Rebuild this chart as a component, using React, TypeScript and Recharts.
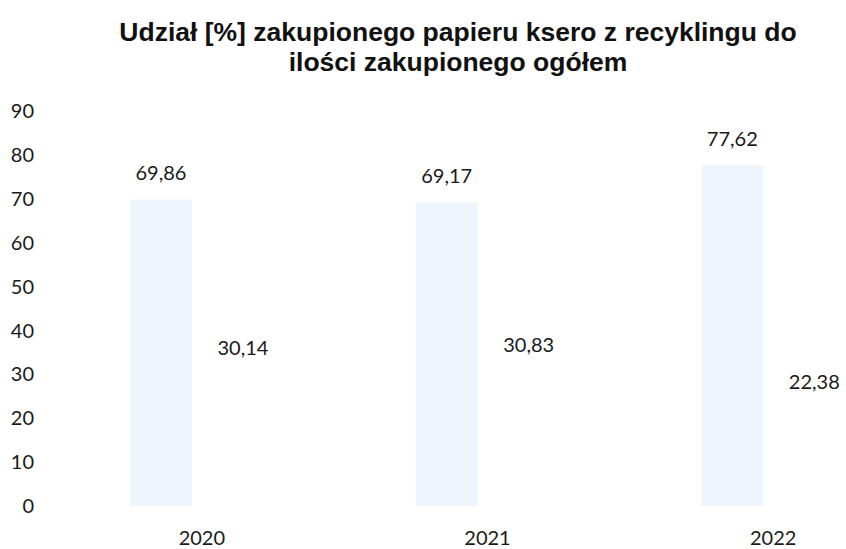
import { BarChart, Bar, XAxis, YAxis, LabelList } from "recharts";

const years = ["2020", "2021", "2022"];
const recycled = [69.86, 69.17, 77.62];
const other = [30.14, 30.83, 22.38];
const yTicks = [0, 10, 20, 30, 40, 50, 60, 70, 80, 90];

const data = years.map((year, i) => ({
  year,
  recycled: recycled[i],
  other: other[i],
}));

const fmt = (v: unknown) => Number(v).toFixed(2).replace(".", ",");

const tickFont = { fontFamily: "Lato, 'Open Sans', sans-serif", fontSize: 20, fill: "#1a1a1a" };

export default function App() {
  return (
    <div
      style={{
        position: "absolute",
        left: 0,
        top: 0,
        width: 846,
        height: 549,
        overflow: "hidden",
        background: "#fff",
      }}
    >
      <div
        style={{
          position: "absolute",
          left: 0,
          top: 17,
          width: 916,
          textAlign: "center",
          fontFamily: "'Liberation Sans', Arial, sans-serif",
          fontWeight: "bold",
          fontSize: 26.5,
          lineHeight: "30px",
          color: "#111",
        }}
      >
        Udział [%] zakupionego papieru ksero z recyklingu do
        <br />
        ilości zakupionego ogółem
      </div>
      <BarChart
        width={930}
        height={549}
        data={data}
        margin={{ top: 111, right: 14, bottom: 0, left: 0 }}
        barSize={62}
        barGap={20}
      >
        <XAxis
          dataKey="year"
          axisLine={false}
          tickLine={false}
          tickSize={0}
          tickMargin={25}
          height={43}
          tick={tickFont}
        />
        <YAxis
          domain={[0, 90]}
          ticks={yTicks}
          axisLine={false}
          tickLine={false}
          tickSize={0}
          tickMargin={25}
          width={59}
          tick={tickFont}
        />
        <Bar dataKey="recycled" fill="#eef5fc" isAnimationActive={false}>
          <LabelList dataKey="recycled" position="top" offset={19} formatter={fmt} style={tickFont} />
        </Bar>
        <Bar dataKey="other" fill="#ffffff" isAnimationActive={false}>
          <LabelList dataKey="other" position="top" offset={19} formatter={fmt} style={tickFont} />
        </Bar>
      </BarChart>
    </div>
  );
}
